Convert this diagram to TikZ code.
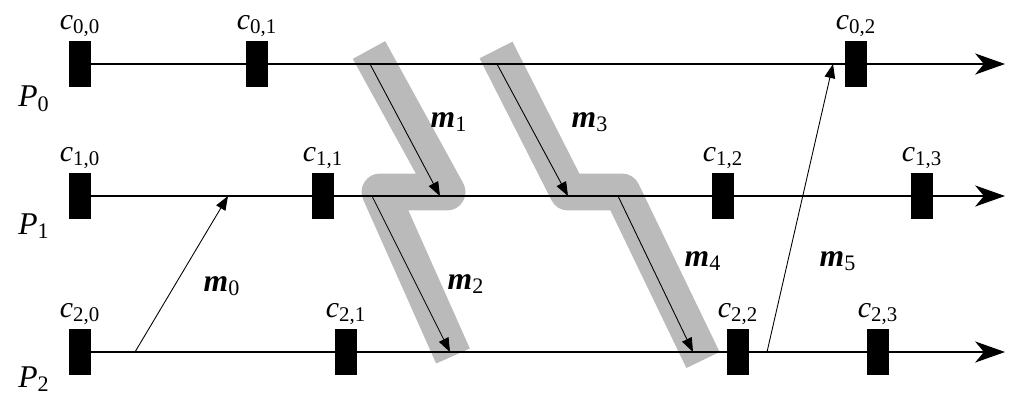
\documentclass[tikz,border=0pt]{standalone}
\usepackage{fontspec}
\setmainfont{Liberation Serif}
\usetikzlibrary{arrows.meta}

\begin{document}
\begin{tikzpicture}[x=0.02cm, y=-0.02cm,
	ckpt/.style={shape=rectangle, fill=black, inner sep=0pt, minimum width=0.44cm, minimum height=0.92cm, label distance=0pt},
	ckptfont/.style={font=\fontsize{17}{18}\selectfont, inner sep=2pt},
	proc/.style={line width=0.7pt, -{Stealth[length=17pt, width=12pt, inset=5pt]}},
	msg/.style={line width=0.5pt, -{Triangle[length=8pt, width=6pt]}},
	band/.style={draw=black!27, line width=21pt, line join=round, line cap=butt},
	mlabel/.style={font=\fontsize{18}{20}\selectfont\bfseries\itshape},
	plabel/.style={font=\fontsize{18}{20}\selectfont\itshape}]
	\useasboundingbox (0, 0) rectangle (1020, 399);
	% Coordinates on the process lines:
	\coordinate (p0end) at (1005, 64);
	\coordinate (p1end) at (1005, 196);
	\coordinate (p2end) at (1005, 352);
	\coordinate (m0s) at (135, 352);  \coordinate (m0r) at (228, 196);
	\coordinate (m1s) at (370, 64);   \coordinate (m1r) at (440, 196);
	\coordinate (m2s) at (372, 196);  \coordinate (m2r) at (450, 352);
	\coordinate (m3s) at (497, 64);   \coordinate (m3r) at (568, 196);
	\coordinate (m4s) at (618, 196);  \coordinate (m4r) at (693, 352);
	\coordinate (m5s) at (767, 352);  \coordinate (m5r) at (833, 64);
	% Gray bands:
	\draw[band] (369, 50) -- (447, 192) -- (380, 192) -- (453, 356);
	\draw[band] (496, 50) -- (568, 192) -- (622, 192) -- (703, 360);
	% Checkpoints:
	\node[ckpt, label={[ckptfont]above:\textit{c}\textsubscript{0,0}}] (c00) at (80, 64){};
	\node[ckpt, label={[ckptfont]above:\textit{c}\textsubscript{0,1}}] (c01) at (257, 64){};
	\node[ckpt, label={[ckptfont]above:\textit{c}\textsubscript{0,2}}] (c02) at (856, 64){};
	\node[ckpt, label={[ckptfont]above:\textit{c}\textsubscript{1,0}}] (c10) at (80, 196){};
	\node[ckpt, label={[ckptfont]above:\textit{c}\textsubscript{1,1}}] (c11) at (323, 196){};
	\node[ckpt, label={[ckptfont]above:\textit{c}\textsubscript{1,2}}] (c12) at (723, 196){};
	\node[ckpt, label={[ckptfont]above:\textit{c}\textsubscript{1,3}}] (c13) at (922, 196){};
	\node[ckpt, label={[ckptfont]above:\textit{c}\textsubscript{2,0}}] (c20) at (80, 352){};
	\node[ckpt, label={[ckptfont]above:\textit{c}\textsubscript{2,1}}] (c21) at (346, 352){};
	\node[ckpt, label={[ckptfont]above:\textit{c}\textsubscript{2,2}}] (c22) at (738, 352){};
	\node[ckpt, label={[ckptfont]above:\textit{c}\textsubscript{2,3}}] (c23) at (878, 352){};
	% Process lines:
	\draw[proc] (c00.east) -- (p0end);
	\draw[proc] (c10.east) -- (p1end);
	\draw[proc] (c20.east) -- (p2end);
	\node[plabel] (P0) at (34, 99){P\textsubscript{\upshape 0}};
	\node[plabel] (P1) at (34, 226){P\textsubscript{\upshape 1}};
	\node[plabel] (P2) at (34, 379){P\textsubscript{\upshape 2}};
	% Messages:
	\draw[msg] (m0s) -- (m0r);
	\draw[msg] (m1s) -- (m1r);
	\draw[msg] (m2s) -- (m2r);
	\draw[msg] (m3s) -- (m3r);
	\draw[msg] (m4s) -- (m4r);
	\draw[msg] (m5s) -- (m5r);
	\node[mlabel] (m0) at (222, 286){m\textsubscript{\mdseries\upshape 0}};
	\node[mlabel] (m1) at (449, 122){m\textsubscript{\mdseries\upshape 1}};
	\node[mlabel] (m2) at (466, 284){m\textsubscript{\mdseries\upshape 2}};
	\node[mlabel] (m3) at (590, 122){m\textsubscript{\mdseries\upshape 3}};
	\node[mlabel] (m4) at (703, 261){m\textsubscript{\mdseries\upshape 4}};
	\node[mlabel] (m5) at (838, 261){m\textsubscript{\mdseries\upshape 5}};
\end{tikzpicture}
\end{document}
